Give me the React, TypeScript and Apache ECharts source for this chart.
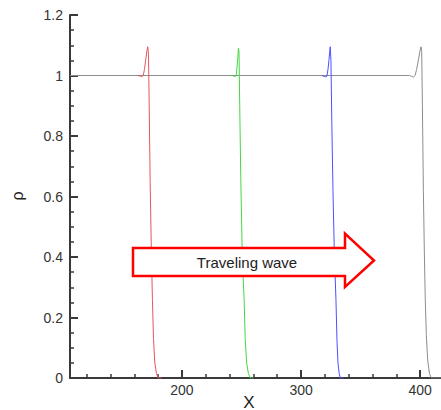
import React, { useEffect, useRef } from "react";
import * as echarts from "echarts";

// x positions and density values
const grayX = [106, 391, 393, 394.5, 395.8, 397, 398.5, 399.8, 400.7, 401.3, 401.9, 402.7, 403.5, 404.3, 405.2, 406.3, 407.8, 409.4, 417.5];
const grayY = [1, 1, 0.997, 0.995, 1.0, 1.02, 1.05, 1.08, 1.095, 1.08, 0.9, 0.62, 0.42, 0.26, 0.14, 0.06, 0.015, 0, 0];

const redX = [163, 165, 166.5, 167.5, 168.5, 169.5, 170.5, 171.3, 171.9, 172.5, 173.3, 174.3, 175.2, 176.1, 177.2, 178.6, 180, 183];
const redY = [1, 0.998, 0.997, 1.0, 1.02, 1.05, 1.08, 1.095, 1.07, 0.9, 0.65, 0.42, 0.26, 0.13, 0.05, 0.015, 0, 0];

const greenX = [241.9, 243.5, 244.8, 245.6, 246.3, 246.9, 247.4, 247.9, 248.5, 249.4, 250.5, 251.4, 252.2, 253.1, 254.3, 255.8, 257.3, 260];
const greenY = [1, 0.998, 0.997, 1.0, 1.03, 1.06, 1.09, 1.08, 0.9, 0.66, 0.43, 0.33, 0.26, 0.13, 0.05, 0.015, 0, 0];

const blueX = [317.5, 319.5, 320.8, 321.7, 322.6, 323.4, 324.1, 324.5, 325.1, 325.8, 326.8, 327.9, 329.3, 330.2, 331.0, 332.0, 332.9, 336];
const blueY = [1, 0.997, 0.995, 0.998, 1.02, 1.05, 1.08, 1.095, 1.05, 0.85, 0.62, 0.42, 0.26, 0.12, 0.05, 0.015, 0, 0];

const yMin = 0;
const yMax = 1.2;
const yStep = 0.2;
const xMin = 106;
const xMax = 417.5;
const xMajorTicks = [200, 300, 400];
const xMinorTicks = [120, 140, 160, 180, 220, 240, 260, 280, 320, 340, 360, 380];

const zip = (xs: number[], ys: number[]) => xs.map((x, i) => [x, ys[i]]);

export default function App() {
  const ref = useRef<HTMLDivElement>(null);
  useEffect(() => {
    if (!ref.current) return;
    const chart = echarts.init(ref.current, null, { renderer: "svg" });
    const axisColor = "#3a3a3a";
    const font = "'Liberation Sans', Arial, Helvetica, sans-serif";
    const lineSeries = (name: string, xs: number[], ys: number[], color: string, z: number) => ({
      name,
      type: "line",
      data: zip(xs, ys),
      showSymbol: false,
      symbol: "none",
      smooth: false,
      z,
      lineStyle: { color, width: 1 },
      xAxisIndex: 0,
      yAxisIndex: 0,
    });
    chart.setOption({
      animation: false,
      grid: { left: 70, right: 0, top: 15, bottom: 32, containLabel: false },
      xAxis: [
        {
          type: "value",
          min: xMin,
          max: xMax,
          axisLine: { show: true, onZero: false, lineStyle: { color: axisColor, width: 2 } },
          axisTick: { show: true, inside: true, length: 8, customValues: xMajorTicks, lineStyle: { color: axisColor, width: 2 } },
          axisLabel: { show: true, customValues: xMajorTicks, color: "#333", fontSize: 14, fontFamily: font, margin: 5 },
          splitLine: { show: false },
        },
        {
          type: "value",
          position: "bottom",
          min: xMin,
          max: xMax,
          axisLine: { show: false, onZero: false },
          axisTick: { show: true, inside: true, length: 4, customValues: xMinorTicks, lineStyle: { color: axisColor, width: 1.5 } },
          axisLabel: { show: false },
          splitLine: { show: false },
        },
      ],
      yAxis: {
        type: "value",
        min: yMin,
        max: yMax,
        interval: yStep,
        axisLine: { show: true, onZero: false, lineStyle: { color: axisColor, width: 2 } },
        axisTick: { show: true, inside: true, length: 8, lineStyle: { color: axisColor, width: 2 } },
        minorTick: { show: true, splitNumber: 4, length: 4, lineStyle: { color: axisColor, width: 1.5 } },
        axisLabel: { color: "#333", fontSize: 14, fontFamily: font, margin: 7 },
        splitLine: { show: false },
        minorSplitLine: { show: false },
      },
      series: [
        lineSeries("t4", grayX, grayY, "#8c8c8c", 2),
        lineSeries("t1", redX, redY, "#e4575c", 3),
        lineSeries("t2", greenX, greenY, "#45d645", 3),
        lineSeries("t3", blueX, blueY, "#4f4fff", 3),
      ],
      graphic: [
        {
          type: "polygon",
          z: 100,
          shape: {
            points: [
              [133, 248],
              [345, 248],
              [345, 233.5],
              [374, 260.5],
              [345, 287],
              [345, 276],
              [133, 276],
            ],
          },
          style: { fill: "#ffffff", stroke: "#ff0000", lineWidth: 2.5, lineJoin: "miter" },
        },
        {
          type: "text",
          z: 101,
          x: 247,
          y: 262,
          style: {
            text: "Traveling wave",
            fill: "#222",
            font: "15px " + font,
            align: "center",
            verticalAlign: "middle",
          },
        },
        {
          type: "text",
          z: 101,
          x: 249,
          y: 402,
          style: {
            text: "X",
            fill: "#222",
            font: "17px " + font,
            align: "center",
            verticalAlign: "middle",
          },
        },
        {
          type: "text",
          z: 101,
          x: 17,
          y: 196,
          rotation: Math.PI / 2,
          style: {
            text: "ρ",
            fill: "#222",
            font: "16px " + font,
            align: "center",
            verticalAlign: "middle",
          },
        },
      ],
    });
    return () => chart.dispose();
  }, []);
  return <div ref={ref} style={{ width: 441, height: 410, position: "absolute", left: 0, top: 0 }} />;
}
